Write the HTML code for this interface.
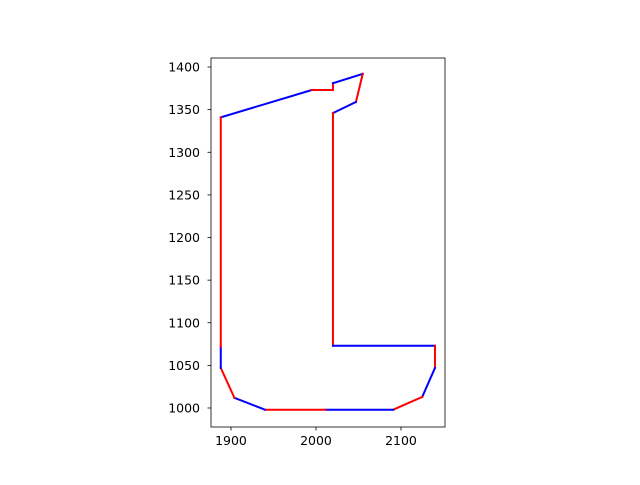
<!DOCTYPE html>
<html><head><meta charset="utf-8"><style>
body{margin:0;background:#fff}
svg text{font-family:"DejaVu Sans","Liberation Sans",sans-serif;font-size:12.5px;fill:#000}
</style></head><body>
<svg id="chart" width="640" height="480" xmlns="http://www.w3.org/2000/svg"></svg>
<script>
const xs=[1888,1995,2020,2020,2055,2047,2020,2020,2140,2140,2125,2091,2011,1940,1904,1888,1888];
const ys=[1341,1373,1373,1381,1392,1359,1346,1073,1073,1047,1013,998,998,998,1012,1047,1072];
const segColors=["blue","red","red","blue","red","blue","red","blue","red","blue","red","blue","red","blue","red","blue","red"];
const xTicks=[1900,2000,2100];
const yTicks=[1000,1050,1100,1150,1200,1250,1300,1350,1400];
const L=211,R=445,T=58,B=427;
const x0=1876.5,x1=2151.8,y0=977.7,y1=1410.6;
const sx=v=>L+(v-x0)/(x1-x0)*(R-L);
const sy=v=>B-(v-y0)/(y1-y0)*(B-T);
const svg=document.getElementById('chart');
const NS="http://www.w3.org/2000/svg";
function mk(tag,attrs,parent){const e=document.createElementNS(NS,tag);for(const k in attrs)e.setAttribute(k,attrs[k]);(parent||svg).appendChild(e);return e;}
const g=mk('g',{});


for(let i=0;i<xs.length;i++){
  const j=(i+1)%xs.length;
  const l=mk('line',{x1:sx(xs[i]),y1:sy(ys[i]),x2:sx(xs[j]),y2:sy(ys[j]),stroke:segColors[i],'stroke-width':2,'stroke-linecap':'square'},g);
  
  
}
const frame=mk('rect',{x:L,y:T,width:R-L,height:B-T,fill:'none',stroke:'#000','stroke-width':0.8});


xTicks.forEach(v=>{
  const x=sx(v);
  mk('line',{x1:x,y1:B,x2:x,y2:B+3.5,stroke:'#000','stroke-width':0.8});
  const t=mk('text',{x:x,y:B+18,'text-anchor':'middle'});t.textContent=v;
  
  
});
yTicks.forEach(v=>{
  const y=sy(v);
  mk('line',{x1:L,y1:y,x2:L-3.5,y2:y,stroke:'#000','stroke-width':0.8});
  const t=mk('text',{x:L-11,y:y+4.5,'text-anchor':'end'});t.textContent=v;
  
  
});
</script>
</body></html>
